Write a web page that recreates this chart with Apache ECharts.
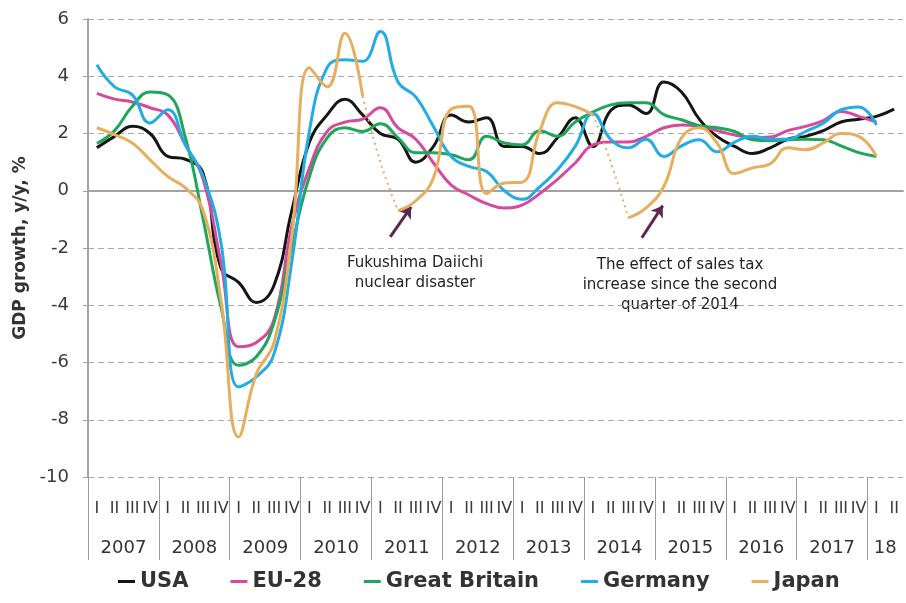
<!DOCTYPE html>
<html>
<head>
<meta charset="utf-8">
<script src="https://cdn.jsdelivr.net/npm/echarts@6/dist/echarts.min.js"></script>
<style>
  html, body { margin: 0; padding: 0; background: #fff; }
  #chart { width: 906px; height: 603px; }
</style>
</head>
<body>
<div id="chart"></div>
<script>
// years on the axis, 2018 only has two quarters shown
const years = ['2007', '2008', '2009', '2010', '2011', '2012', '2013', '2014', '2015', '2016', '2017', '18']
const quartersPerYear = [4, 4, 4, 4, 4, 4, 4, 4, 4, 4, 4, 2]
const quarterNames = ['I', 'II', 'III', 'IV']

// GDP growth y/y, %, quarterly from 2007 Q1
const usa = [1.5, 1.9, 2.25, 2.0, 1.2, 1.1, 0.6, -2.7, -3.2, -3.9, -3.3, -0.7,
  1.7, 2.65, 3.2, 2.65, 2.0, 1.8, 1.0, 1.55, 2.65, 2.4, 2.55, 1.55,
  1.55, 1.3, 1.85, 2.55, 1.55, 2.8, 3.0, 2.7, 3.8, 3.45, 2.5, 1.9,
  1.55, 1.3, 1.5, 1.8, 1.9, 2.1, 2.4, 2.5, 2.6, 2.85]
const eu28 = [3.4, 3.2, 3.1, 2.9, 2.65, 1.6, 0.4, -2.5, -5.45, -5.3, -4.5, -1.25,
  0.8, 2.07, 2.4, 2.5, 2.9, 2.2, 1.8, 0.97, 0.2, -0.15, -0.45, -0.6,
  -0.5, -0.1, 0.4, 0.97, 1.6, 1.7, 1.7, 1.9, 2.2, 2.3, 2.25, 2.1,
  1.95, 1.86, 1.88, 2.1, 2.25, 2.45, 2.77, 2.6, 2.4]
const britain = [1.65, 2.1, 2.95, 3.45, 3.35, 1.85, -1.0, -4.05, -6.1, -5.8, -4.6, -1.95,
  0.5, 1.85, 2.2, 2.07, 2.34, 1.85, 1.33, 1.33, 1.26, 1.08, 1.9, 1.67,
  1.6, 2.1, 1.9, 2.4, 2.75, 3.0, 3.07, 3.07, 2.66, 2.48, 2.27, 2.2,
  2.07, 1.78, 1.75, 1.78, 1.8, 1.78, 1.57, 1.33, 1.2]
const germany = [4.4, 3.63, 3.35, 2.37, 2.83, 1.6, 0.5, -1.8, -6.85, -6.5, -5.7, -2.5,
  2.1, 4.3, 4.58, 4.52, 5.56, 3.8, 3.28, 2.24, 1.2, 0.85, 0.67, 0.0,
  -0.3, 0.14, 0.73, 1.55, 2.7, 1.8, 1.5, 1.8, 1.2, 1.57, 1.78, 1.36,
  1.7, 1.9, 1.8, 1.8, 2.07, 2.36, 2.83, 2.93, 2.3]
const japan = [2.2, 1.96, 1.67, 1.08, 0.5, 0.1, -0.7, -3.8, -8.6, -6.4, -5.3, -1.6,
  4.3, 3.63, 5.5, 3.3, 1.0, -0.7, -0.35, 0.45, 2.85, 2.95, -0.1, 0.27,
  0.3, 2.1, 3.07, 2.94, 2.66, 1.0, -0.95, -0.6, 0.15, 1.85, 2.2, 1.67,
  0.6, 0.8, 0.94, 1.5, 1.43, 1.67, 2.0, 1.9, 1.2]
// quarter index ranges where the Japan line is dotted
const japanDotted = [[15, 17], [28, 30]]

// arrows: [quarter index, value] start -> end
const arrows = [
  [[16.56, -1.61], [17.74, -0.56]],
  [[30.76, -1.64], [31.94, -0.52]]
]
const notes = ['Fukushima Daiichi\nnuclear disaster',
  'The effect of sales tax\nincrease since the second\nquarter of 2014']

const colors = {usa: '#151515', eu: '#d6499b', gb: '#1fa65a', de: '#22ace4', jp: '#e9ad5e'}

// build axis categories
const quarterCats = []
const yearAxis = []
const yearStarts = []
let pos = 0
years.forEach((y, k) => {
  const n = quartersPerYear[k]
  yearStarts.push(pos)
  for (let q = 0; q < n; q++) quarterCats.push(quarterNames[q])
  pos += n
})
for (let i = 0; i <= pos; i++) yearAxis.push('')
pos = 0
years.forEach((y, k) => {
  yearAxis[pos + quartersPerYear[k] / 2] = y
  pos += quartersPerYear[k]
})

const inDotted = (i, strict) => japanDotted.some(r => strict ? (i > r[0] && i < r[1]) : (i >= r[0] && i <= r[1]))
const japanSolid = japan.map((v, i) => inDotted(i, true) ? null : v)
const japanDots = japan.map((v, i) => inDotted(i, false) ? v : null)

const font = 'DejaVu Sans'
const gray = '#a3a3a3'

const chart = echarts.init(document.getElementById('chart'))

function line(name, data, color, extra) {
  return Object.assign({
    name, type: 'line', data, smooth: 0.45, showSymbol: false, symbol: 'none',
    xAxisIndex: 0, yAxisIndex: 0,
    lineStyle: {width: 3, color}, itemStyle: {color}, connectNulls: false
  }, extra || {})
}

chart.setOption({
  animation: false,
  textStyle: {fontFamily: font},
  grid: {left: 88, top: 19, right: -2, bottom: 126, containLabel: false},
  legend: {
    left: 118, top: 571, padding: 0, itemGap: 42,
    itemWidth: 17, itemHeight: 3, icon: 'rect',
    data: ['USA', 'EU-28', 'Great Britain', 'Germany', 'Japan'],
    textStyle: {fontFamily: font, fontWeight: 'bold', fontSize: 21, color: '#333'}
  },
  xAxis: [
    { // zero line with small quarter ticks
      type: 'category', data: quarterCats, position: 'bottom',
      axisLine: {onZero: true, lineStyle: {color: gray, width: 2}},
      axisTick: {interval: 0, length: 5, lineStyle: {color: gray}},
      axisLabel: {show: false}, splitLine: {show: false}
    },
    { // quarter labels
      type: 'category', data: quarterCats, position: 'bottom',
      axisLine: {show: false, onZero: false},
      axisTick: {interval: 0, length: 41, lineStyle: {color: '#9a9a9a'}},
      axisLabel: {interval: 0, margin: 24, fontSize: 16, color: '#3a3a3a', fontFamily: font}
    },
    { // year labels
      type: 'category', data: yearAxis, position: 'bottom', boundaryGap: false,
      axisLine: {show: false, onZero: false},
      axisTick: {interval: (i) => yearStarts.includes(i), length: 83, lineStyle: {color: '#9a9a9a'}},
      axisLabel: {interval: 0, margin: 62, fontSize: 18, color: '#333', fontFamily: font}
    },
    { // hidden linear axis for annotation arrows
      type: 'value', min: -0.5, max: 45.5, show: false
    }
  ],
  yAxis: {
    type: 'value', min: -10, max: 6, interval: 2,
    name: 'GDP growth, y/y, %', nameLocation: 'middle', nameGap: 42, nameRotate: 90,
    nameTextStyle: {fontFamily: font, fontWeight: 'bold', fontSize: 17, color: '#333'},
    axisLine: {show: true, onZero: false, lineStyle: {color: gray, width: 2}},
    axisTick: {show: true, length: 5, lineStyle: {color: gray}},
    axisLabel: {fontSize: 18, color: '#3a3a3a', margin: 19, fontFamily: font},
    splitLine: {lineStyle: {type: [6, 4], color: '#a8a8a8', width: 1}}
  },
  series: [
    line('USA', usa, colors.usa),
    line('EU-28', eu28, colors.eu),
    line('Great Britain', britain, colors.gb),
    line('Germany', germany, colors.de),
    line('Japan', japanSolid, colors.jp),
    line('Japan dotted', japanDots, colors.jp, {lineStyle: {width: 2, color: colors.jp, type: [2, 4]}}),
    {
      type: 'lines', coordinateSystem: 'cartesian2d', xAxisIndex: 3, yAxisIndex: 0,
      symbol: ['none', 'arrow'], symbolSize: 11,
      lineStyle: {color: '#5e2750', width: 3, opacity: 1},
      data: arrows.map(a => ({coords: a}))
    }
  ],
  graphic: [
    {type: 'text', x: 415, y: 253, style: {text: notes[0], font: '15px "DejaVu Sans"', fill: '#222', align: 'center', lineHeight: 20}},
    {type: 'text', x: 680, y: 255, style: {text: notes[1], font: '15px "DejaVu Sans"', fill: '#222', align: 'center', lineHeight: 20}}
  ]
})
</script>
</body>
</html>
